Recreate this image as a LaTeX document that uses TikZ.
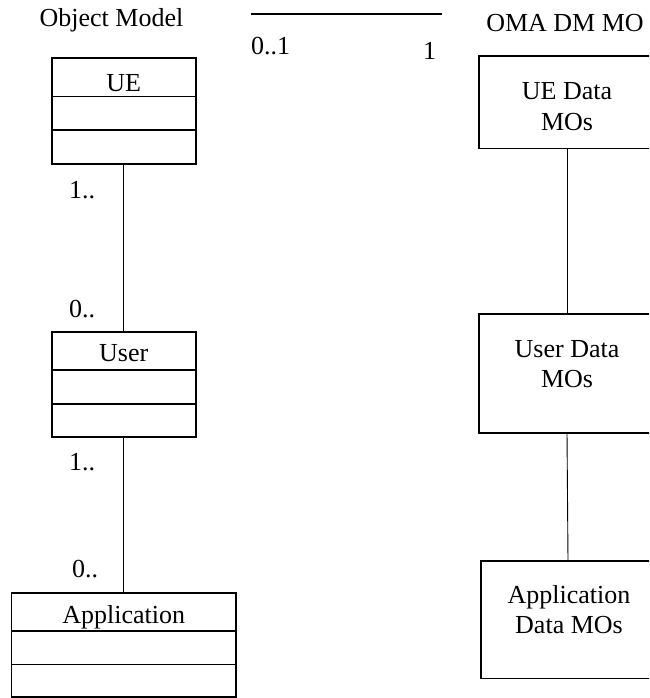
\documentclass[tikz,border=0pt]{standalone}
\usepackage{fontspec}
\setmainfont{Liberation Serif}
\begin{document}
\begin{tikzpicture}[x=1pt,y=-1pt,
  box/.style={draw, line width=1.6pt, inner sep=0pt, outer sep=0pt},
  conn/.style={line width=0.9pt},
  txt/.style={anchor=base, inner sep=0pt, font=\fontsize{26}{30}\selectfont},
  mult/.style={anchor=base west, inner sep=0pt, font=\fontsize{26}{30}\selectfont}]
\useasboundingbox (0,0) rectangle (649,698);
\clip (0,0) rectangle (649,698);

% titles
\node[txt] (tobj) at (111.5,27) {Object Model};
\node[txt] (toma) at (565,32) {OMA DM MO};

% legend line
\coordinate (la) at (251,14);
\coordinate (lb) at (442,14);
\draw[line width=1.6pt] (la) -- (lb);
\node[mult] (l01) at (251,55) {0..1};
\node[txt] (l1) at (429.5,60) {1};

% UE class
\node[box, minimum width=144pt, minimum height=38.4pt] (ueA) at (123.7,77.5) {};
\node[box, minimum width=144pt, minimum height=33.3pt] (ueB) at (123.7,113.35) {};
\node[box, minimum width=144pt, minimum height=34pt] (ueC) at (123.7,147) {};
\node[txt] (ueT) at (123.7,92) {UE};

% User class
\node[box, minimum width=144pt, minimum height=38.3pt] (userA) at (123.7,350.85) {};
\node[box, minimum width=144pt, minimum height=34pt] (userB) at (123.7,387) {};
\node[box, minimum width=144pt, minimum height=32.7pt] (userC) at (123.7,420.35) {};
\node[txt] (userT) at (123.7,361.7) {User};

% Application class
\node[box, minimum width=224.6pt, minimum height=38pt] (appA) at (123.7,611.7) {};
\node[box, minimum width=224.6pt, minimum height=33.6pt] (appB) at (123.7,647.5) {};
\node[box, minimum width=224.6pt, minimum height=32.7pt] (appC) at (123.7,680.65) {};
\node[txt] (appT) at (123.7,623) {Application};

% connectors left
\draw[conn] (ueC.south) -- (userA.north);
\draw[conn] (userC.south) -- (appA.north);
\node[mult] (m1) at (69,198) {1..};
\node[mult] (m2) at (69,317) {0..};
\node[mult] (m3) at (69,470) {1..};
\node[mult] (m4) at (72,577) {0..};

% right MO boxes
\node[box, minimum width=176pt, minimum height=92.3pt] (mo1) at (567,102.15) {};
\node[box, minimum width=176pt, minimum height=118.7pt] (mo2) at (567,373.35) {};
\node[box, minimum width=174pt, minimum height=117.6pt] (mo3) at (568,619.5) {};
\node[txt] (mo1a) at (567,100) {UE Data};
\node[txt] (mo1b) at (567,130) {MOs};
\node[txt] (mo2a) at (567,357) {User Data};
\node[txt] (mo2b) at (567,387) {MOs};
\node[txt] (mo3a) at (569,603) {Application};
\node[txt] (mo3b) at (569,633) {Data MOs};

\draw[conn] (mo1.south) -- (mo2.north);
\draw[conn] (mo2.south) -- (mo3.north);
\end{tikzpicture}
\end{document}
